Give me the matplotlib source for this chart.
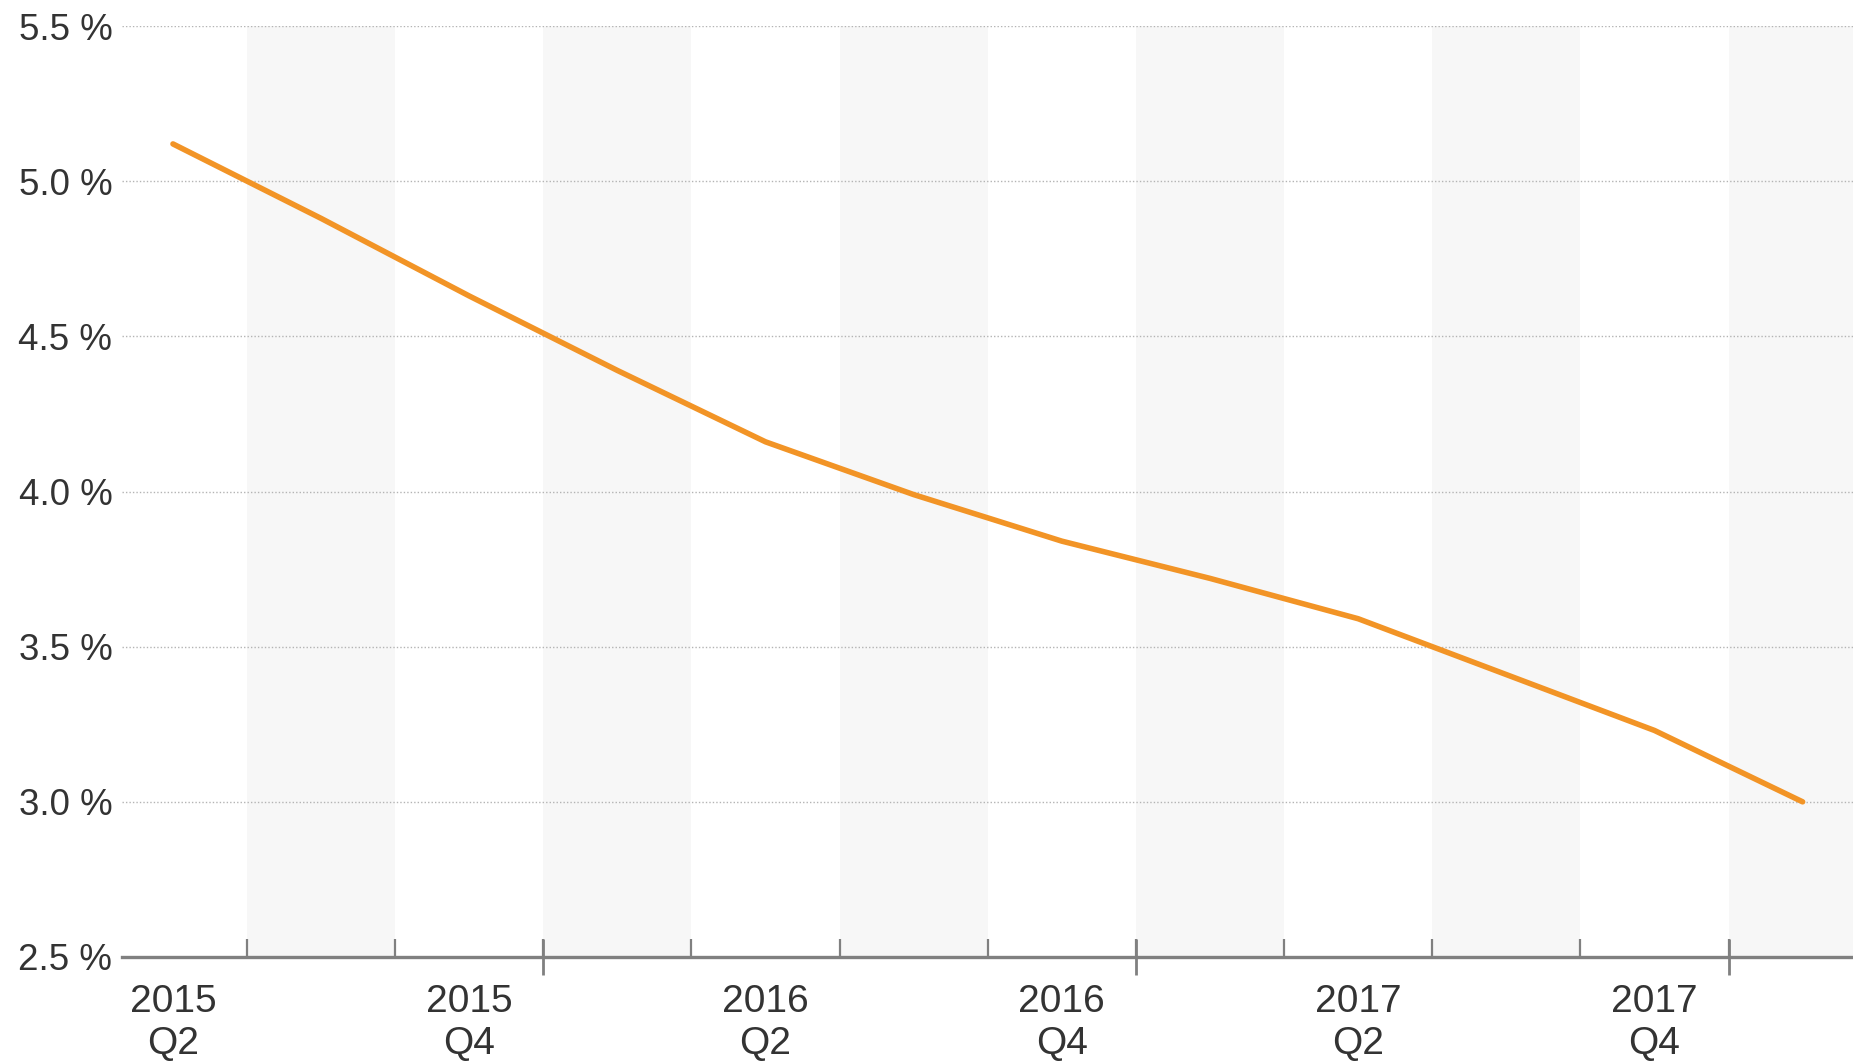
import numpy as np
import matplotlib
matplotlib.use("Agg")
import matplotlib.pyplot as plt

plt.rcParams['font.family'] = ['Liberation Sans', 'DejaVu Sans']

# quarterly values, Q2 2015 .. Q1 2018
quarters = ['2015 Q2', '2015 Q3', '2015 Q4', '2016 Q1', '2016 Q2', '2016 Q3',
            '2016 Q4', '2017 Q1', '2017 Q2', '2017 Q3', '2017 Q4', '2018 Q1']
values = [5.12, 4.88, 4.63, 4.39, 4.16, 3.99, 3.84, 3.72, 3.59, 3.41, 3.23, 3.00]
y_ticks = [2.5, 3.0, 3.5, 4.0, 4.5, 5.0, 5.5]

x = np.arange(len(quarters))

fig = plt.figure(figsize=(18.53, 10.61), dpi=100)
ax = fig.add_axes([122 / 1853, 1 - 957 / 1061, 1 - 122 / 1853, (957 - 26) / 1061])

# alternating quarter bands (Q1 and Q3 shaded)
for i, q in enumerate(quarters):
    if q.endswith('Q1') or q.endswith('Q3'):
        ax.axvspan(i - 0.5, i + 0.5, color='#f7f7f7', lw=0, zorder=0)

# dotted horizontal grid
for v in y_ticks[1:]:
    ax.axhline(v, color='#b4b4b4', lw=1.0, ls=(0, (1, 1.5)), zorder=1)

ax.plot(x, values, color='#f29426', lw=4.0, solid_capstyle='round', zorder=3)

ax.set_xlim(-0.344, 11.34)
ax.set_ylim(2.5, 5.5)

for s in ['top', 'right', 'left']:
    ax.spines[s].set_visible(False)
ax.spines['bottom'].set_color('#808080')
ax.spines['bottom'].set_linewidth(2.4)

ax.set_yticks(y_ticks)
ax.set_yticklabels(['%.1f %%' % v for v in y_ticks])
ax.tick_params(axis='y', length=0, pad=7, labelsize=26.5, labelcolor='#333333')

# labels on every second quarter (Q2 / Q4)
lab_pos = [i for i, q in enumerate(quarters) if q.endswith('Q2') or q.endswith('Q4')]
ax.set_xticks(lab_pos)
ax.set_xticklabels([quarters[i].replace(' ', '\n') for i in lab_pos], linespacing=1.2)
ax.tick_params(axis='x', which='major', length=0, pad=19.5, labelsize=28, labelcolor='#333333')

# quarter boundary ticks
bounds = x[:-1] + 0.5
ax.set_xticks(bounds, minor=True)
ax.tick_params(axis='x', which='minor', direction='in', length=13, width=1.6, color='#808080')

# year boundaries get a longer tick through the axis
year_b = [b for b in bounds if quarters[int(b + 0.5)].endswith('Q1')]
ax.vlines(year_b, -0.0195, 0.0195, transform=ax.get_xaxis_transform(),
          color='#808080', lw=2.0, clip_on=False, zorder=4)

fig.savefig('out.png', dpi=100)
